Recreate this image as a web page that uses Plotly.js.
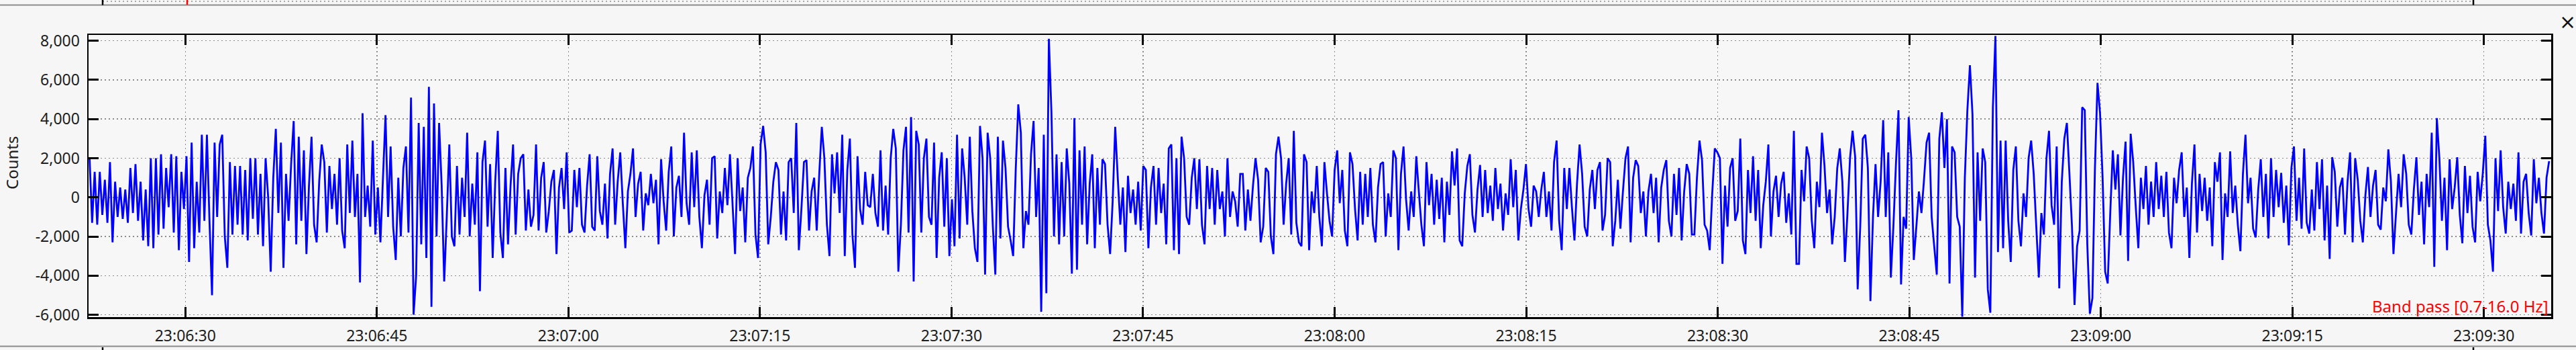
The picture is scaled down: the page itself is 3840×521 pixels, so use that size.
<!DOCTYPE html>
<html>
<head>
<meta charset="utf-8">
<script src="https://cdn.plot.ly/plotly-3.0.1.min.js"></script>
<style>
  html, body { margin: 0; padding: 0; background: #f6f6f6; }
  #trace { width: 3840px; height: 521px; }
</style>
</head>
<body>
<div id="trace"></div>
<script>
// counts, one value per ~0.2 s, in ~20 s blocks
var seg_0622 = [2000,-1300,1300,-1400,1300,-900,900,-1300,1800,-2300,800,-1000,500,-1100,400,-1300,1500,-800,1700,-1200,
  800,-2200,400,-2500,2000,-2600,2000,-1900,2200,-1600,1500,-500,2200,-1800,2100,-2700,1300,-600,2100,-3300,
  2800,-2600,800,-1800,3200,-1200,3200,-1200,-5000,2800,-1000,2700,3200,-2000,-3600,1800,-1900,1600,-1400,1600,
  -1900,1400,-2200,2000,-1100,2000,-1900,1200,-2500,2000];
var seg_0636 = [0,-3800,1000,3500,-800,2800,-3600,1200,-1200,1700,3900,-2400,3100,-1200,2400,-2900,600,3100,-1400,-2300,
  800,2700,1800,-1800,1600,-600,1200,-1400,2000,-1700,-2600,2700,-800,2900,-1000,1200,-4350,4300,-1000,600,
  -1500,2900,-1900,500,-2300,1000,4200,-1000,2600,-1500,-3200,1000,-2000,1500,2600,-1800,5100,-6000,-4000,3800,
  -2400,3600,-3100,5650,-5600,4800,-2000,3800,600,-4300,-1000,2700,-2000,-2500,1600,-1900,1000,-1000,3300,-2000,
  700,-1400,2300,-4800,1800,2900,-1500,1700,-3100,800,3400,-1800,-3100,1500,-2400,600,2700,-1900,1200,2000];
var seg_0656 = [2200,-1700,400,-1500,-900,2700,-1700,1000,1800,-1800,-700,800,1400,-2900,500,1500,-600,2300,-1800,-1700,
  1400,-500,1500,-1400,-1800,600,2200,-1500,-1700,2100,-700,-1400,700,-2100,1200,2500,-1400,800,2300,-300,
  -2600,300,1200,2500,-1000,700,1300,-1700,200,-400,1200,-300,900,-2400,1950,-200,-1700,1300,2600,-2000,
  500,1100,-1000,3300,-300,-1400,2300,-500,2400,-1000,-2600,100,900,-1400,2000,2100,-2100,300,-800,1500,
  -400,2200,-300,-2900,2000,-700,500,-2300,1000,1500,2600,-1900,-3100,2700,3650,2300,-2400,-1000,800,1800];
var seg_0716 = [1400,-1900,300,-2200,1800,2000,-800,3800,-2700,-600,1800,1900,-1700,300,1000,-1700,1200,3600,2000,-1400,
  -3000,2200,200,2300,-800,3200,-3000,1400,3000,-1900,-3600,2100,-600,-1400,1300,-400,-500,1200,-800,-1500,
  2400,-1700,600,-1900,2000,3500,2500,-3800,-1400,2400,3600,-1800,4100,-4300,3400,2700,-1800,2000,3000,-1000,
  -1400,2800,-3100,1000,2300,-1500,2000,-3000,-100,-2500,3200,-2100,2500,1000,-1400,3100,-700,-2600,-3300,3650,
  2000,-3950,3300,2000,-1400,-3950,3100,-2100,2900,1500,-1500,-2200,-3000,1400,4750,3300,-2600,-700,-1400,2200];
var seg_0736 = [3900,-1000,1500,-5850,3200,-4900,8100,4350,-2000,2200,-2400,1800,-2000,2500,700,-3900,4050,-3700,2400,-1400,
  2600,-2400,700,2200,-2600,1500,-1400,1950,1700,-1400,-2900,-200,3600,1000,-1400,500,-2800,1100,-800,400,
  -1400,800,-1700,1600,1400,-2600,500,1600,-1400,1500,-800,700,-2400,2500,2700,-2700,2000,-2900,3100,2000,
  -1000,-1400,1000,2000,-600,1950,-1400,-2400,1600,-600,1500,-1400,1400,-600,300,-2000,2000,-1000,300,-200,
  -1500,1200,1200,-1700,400,-1200,600,2000,900,-2300,-1500,1500,1300,-2000,-2900,2200,3100,2000,-1400,700];
var seg_0756 = [2000,-1900,3400,-1300,-2300,-2500,2200,1800,-2700,300,-800,1600,-1000,-2500,1800,200,-1200,-2000,1400,2400,
  -300,1400,-1700,-2500,2300,1700,-600,-2200,1300,-1400,1200,-1000,1500,-1400,-2300,500,1700,1800,-2000,200,
  -1000,2400,2000,-2700,1200,2600,-100,-1700,300,-1000,2100,300,-1400,-2500,1800,-400,1200,-1400,900,-1100,
  1000,-2300,800,-900,2350,600,2500,-2200,-2500,200,1600,2200,-900,-1800,400,1650,-1000,1400,-800,600,
  -1200,1500,-600,700,-1700,200,-900,1950,-500,1400,-2200,-600,400,1700,-600,-1500,600,300,-1000,400];
var seg_0816 = [1300,-1000,300,-1700,1800,2900,-1200,-2700,1500,-600,1500,-500,-2200,700,2700,1200,-1500,-2000,400,1400,
  -600,1400,1800,-1700,-900,2000,1800,-2500,-1200,900,-1600,300,2000,2600,-2300,1000,1900,1600,-800,300,
  -2000,300,1200,-800,1000,-2300,500,1400,1900,-1200,-2000,1200,-900,1500,-2200,300,1700,1200,-1900,-1900,
  1000,2900,1900,-1400,-1700,-2700,200,2500,2300,2000,-3400,600,-1500,1500,2000,-1200,-700,3000,-2200,-2900,
  1400,-800,2100,-1200,1400,-2600,-400,800,2700,-2000,300,1100,-1000,700,1300,-1300,200,-1900,3400,-3400];
var seg_0836 = [-3400,1400,-200,2600,2000,-1200,-2600,800,-500,3300,1600,-800,400,-2400,-1000,1500,2500,800,-3300,-800,
  2000,3400,2100,-4700,-1500,3000,3200,1500,-5300,-1000,1700,-1000,800,3950,-1000,2300,-4100,-1500,1700,4450,
  -4450,-1000,-1600,4100,2000,-3200,-1500,300,-800,900,2800,3300,-1000,-2500,-3950,3000,4350,1500,4000,-4400,
  2600,2300,-1000,-1500,-6100,1000,4450,6750,4250,-4100,2300,-1200,2500,1800,-4700,-5900,4600,8250,-2800,2900,
  -2600,2900,-1200,-3300,1400,2600,-1200,-2500,200,-1000,2000,2900,1200,-1500,-4100,-800,-1900,2000,3400,-400];
var seg_0856 = [-1400,2600,-4650,800,3000,3800,1200,-1500,-5500,-2500,-1700,4600,4450,-2400,-5950,-5150,1500,5850,4300,1000,
  -3800,-4400,-800,2400,400,2200,-1950,1000,2850,-3250,3250,1800,-500,-2600,1000,-600,1600,-1400,800,-1000,
  1800,-600,1100,-1000,1300,-1800,-2600,1000,-300,1400,2300,-1000,500,-3100,700,2700,-1800,1200,-700,1000,
  -1200,500,-2500,1800,800,2300,-3200,200,-1000,2350,-800,600,-1400,-2750,1200,3200,-300,1000,-1600,-2050,
  400,1950,-1000,1200,-2100,2000,-1000,1400,-500,1250,-1300,600,-2450,1500,2600,-1200,1000,-1600,2500,-1300];
var seg_0916 = [-1850,400,-1700,1800,-600,1950,-2200,600,-3150,2050,1300,-1500,500,1000,-1900,800,2300,-2300,2000,900,
  -1200,-2300,100,1550,-1000,600,1400,-1400,-1650,500,-200,2450,800,-2900,-800,1200,-500,2200,1200,-1400,
  -1900,400,2050,-900,800,-2400,1200,-500,3300,-3550,4050,2000,-1200,1000,-2700,1950,-600,500,2050,-900,
  -2350,1600,-800,1100,-1500,-2300,1300,-200,1200,3150,-1400,-2200,-3800,2000,-700,2400,-500,-1850,800,-600,
  700,-1200,2300,-1850,800,1200,-800,-1950,1950,-300,1000,-800,-1850,1000,1850];

var startMs = Date.UTC(2000, 0, 1, 23, 6, 22, 500);   // first sample
var sampleStepMs = 199.8;
var timeRange = ['2000-01-01 23:06:22.42', '2000-01-01 23:09:35.27'];
var countRange = [-6120, 8300];
var yTickVals = [-6000, -4000, -2000, 0, 2000, 4000, 6000, 8000];
var yTickText = ['-6,000', '-4,000', '-2,000', '0', '2,000', '4,000', '6,000', '8,000'];
var yTitle = 'Counts';
var filterLabel = 'Band pass [0.7-16.0 Hz]';

var counts = [].concat(seg_0622, seg_0636, seg_0656, seg_0716, seg_0736,
                       seg_0756, seg_0816, seg_0836, seg_0856, seg_0916);
var times = counts.map(function (v, i) {
  return new Date(startMs + i * sampleStepMs).toISOString().replace('T', ' ').replace('Z', '');
});

// plot box in pixels, used to place the frame bits of the neighbour panels
var L = 132, R = 3803, T = 52, B = 472;
function px(x) { return (x - L) / (R - L); }
function py(y) { return (B - y) / (B - T); }

function seg(x0, y0, x1, y1, color, width, dash) {
  return { type: 'line', xref: 'paper', yref: 'paper', x0: px(x0), y0: py(y0), x1: px(x1), y1: py(y1),
           line: { color: color, width: width, dash: dash || 'solid' } };
}

var shapes = [
  // bottom edge of the panel above
  seg(0, 7.5, 3840, 7.5, '#8c8c8c', 2),
  seg(153, 2, 3687, 2, '#8c8c8c', 1.5, '2px,4px'),
  seg(153, 0, 153, 7.5, '#000', 2.5),
  seg(3687, 0, 3687, 7.5, '#000', 2.5),
  seg(279, 0, 279, 7, '#ff0000', 2.5),
  // top edge of the panel below
  seg(0, 515.5, 3840, 515.5, '#8c8c8c', 2),
  seg(153, 517, 153, 521, '#000', 2.5),
  seg(3687, 517, 3687, 521, '#000', 2.5)
];

var axisFont = { family: 'Noto Sans, sans-serif', size: 23, color: '#202020' };

var data = [{
  x: times,
  y: counts,
  type: 'scatter',
  mode: 'lines',
  line: { color: '#0000ff', width: 2.8, simplify: false },
  hoverinfo: 'skip'
}];

var layout = {
  width: 3840,
  height: 521,
  autosize: false,
  margin: { l: L, r: 3840 - R, t: T, b: 521 - B, pad: 0 },
  paper_bgcolor: '#f6f6f6',
  plot_bgcolor: '#f7f7f7',
  showlegend: false,
  font: axisFont,
  xaxis: {
    type: 'date',
    range: timeRange,
    tick0: '2000-01-01 23:06:30',
    dtick: 15000,
    tickformat: '%H:%M:%S',
    ticks: 'inside',
    ticklen: 15,
    tickwidth: 3,
    tickcolor: '#000',
    showline: true,
    linecolor: '#000',
    linewidth: 2.5,
    mirror: 'ticks',
    showgrid: true,
    gridcolor: '#8c8c8c',
    gridwidth: 1.5,
    griddash: '2px,4px',
    zeroline: false,
    ticklabelstandoff: 6,
    tickfont: axisFont
  },
  yaxis: {
    range: countRange,
    tickvals: yTickVals,
    ticktext: yTickText,
    ticks: 'inside',
    ticklen: 15,
    tickwidth: 3,
    tickcolor: '#000',
    showline: true,
    linecolor: '#000',
    linewidth: 2.5,
    mirror: 'ticks',
    showgrid: true,
    gridcolor: '#8c8c8c',
    gridwidth: 1.5,
    griddash: '2px,4px',
    zeroline: false,
    ticklabelstandoff: 6,
    tickfont: axisFont
  },
  shapes: shapes,
  annotations: [
    {
      text: yTitle, xref: 'paper', yref: 'paper', x: px(18), y: py(242),
      xanchor: 'center', yanchor: 'middle', textangle: -90, showarrow: false,
      font: { family: 'Noto Sans, sans-serif', size: 24, color: '#202020' }
    },
    {
      text: filterLabel, xref: 'paper', yref: 'paper', x: 1, y: 0,
      xanchor: 'right', yanchor: 'bottom', xshift: -2, yshift: -2, showarrow: false,
      font: { family: 'Noto Sans, sans-serif', size: 24, color: '#ff0000' }
    },
    {
      text: '\u00d7', xref: 'paper', yref: 'paper', x: px(3827), y: py(33),
      xanchor: 'center', yanchor: 'middle', showarrow: false,
      font: { family: 'DejaVu Sans, sans-serif', size: 30, color: '#111' }
    }
  ]
};

Plotly.newPlot('trace', data, layout, { staticPlot: true, displayModeBar: false });
</script>
</body>
</html>
